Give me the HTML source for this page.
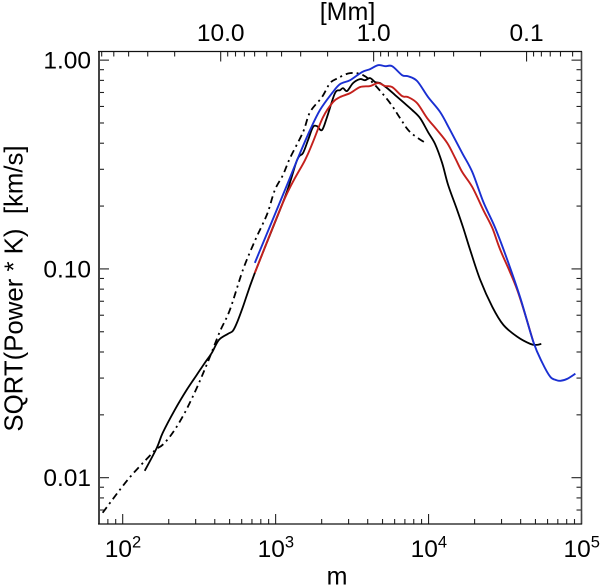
<!DOCTYPE html>
<html>
<head>
<meta charset="utf-8">
<title>Velocity power spectrum</title>
<style>
html,body{margin:0;padding:0;background:#fff;width:600px;height:586px;overflow:hidden}
svg{display:block}
text{font-family:"Liberation Sans",sans-serif;fill:#000}
</style>
</head>
<body>
<svg id="chart" xmlns="http://www.w3.org/2000/svg" width="600" height="586" viewBox="0 0 600 586">
  <rect x="0" y="0" width="600" height="586" fill="#fff"/>
  <g id="series" fill="none" stroke-linejoin="round"></g>
  <g id="ticks" fill="none"></g>
  <line x1="99" y1="51.5" x2="99" y2="524.5" stroke="#444" stroke-width="2"/>
  <line x1="581.5" y1="51.5" x2="581.5" y2="524.5" stroke="#444" stroke-width="1.6"/>
  <line x1="98" y1="51.5" x2="582" y2="51.5" stroke="#111" stroke-width="1.2"/>
  <line x1="98" y1="524" x2="582" y2="524" stroke="#111" stroke-width="1.2"/>
  <g id="labels"></g>
  <text x="337" y="584.5" font-size="25" text-anchor="middle">m</text>
  <text x="347.5" y="20" font-size="25" text-anchor="middle">[Mm]</text>
  <text transform="translate(22.5,288.5) rotate(-90)" font-size="25.8" text-anchor="middle">SQRT(Power * K)&#160;&#160;[km/s]</text>
</svg>
<script>
// Axis domains
const xDomain = [70, 100000];
const yDomain = [0.006, 1.1];
const circumferenceMm = 4373;

// Tick values and printed labels
const xMajorExponents = [2, 3, 4, 5];
const yMajorValues = [1, 0.1, 0.01];
const yMajorLabels = ["1.00", "0.10", "0.01"];
const topMajorValues = [10, 1, 0.1];
const topMajorLabels = ["10.0", "1.0", "0.1"];
const minorMultiples = [2, 3, 4, 5, 6, 7, 8, 9];

// Series, as log10(m) and log10(km/s)
const blackLogM = [2.144,2.223,2.262,2.341,2.419,2.485,2.537,2.583,2.629,2.688,2.720,2.747,2.786,2.864,3.061,3.140,3.179,3.212,3.244,3.270,3.303,3.336,3.388,3.421,3.441,3.467,3.506,3.552,3.585,3.618,3.650,3.683,3.729,3.781,3.834,3.893,3.945,3.997,4.043,4.089,4.128,4.187,4.227,4.272,4.338,4.417,4.489,4.580,4.665,4.705,4.737];
const blackLogV = [-1.967,-1.857,-1.785,-1.675,-1.579,-1.507,-1.450,-1.402,-1.340,-1.311,-1.297,-1.258,-1.182,-1.019,-0.656,-0.479,-0.445,-0.383,-0.321,-0.316,-0.335,-0.273,-0.158,-0.144,-0.134,-0.148,-0.110,-0.091,-0.096,-0.086,-0.105,-0.110,-0.134,-0.167,-0.201,-0.239,-0.278,-0.345,-0.402,-0.493,-0.598,-0.718,-0.804,-0.909,-1.053,-1.182,-1.268,-1.325,-1.359,-1.364,-1.359];

const redLogM = [2.864,3.061,3.192,3.244,3.310,3.375,3.421,3.487,3.552,3.618,3.670,3.716,3.762,3.827,3.866,3.925,3.991,4.056,4.122,4.174,4.220,4.286,4.358,4.417,4.469,4.580,4.685];
const redLogV = [-1.019,-0.660,-0.479,-0.392,-0.273,-0.201,-0.177,-0.158,-0.129,-0.124,-0.110,-0.124,-0.129,-0.172,-0.177,-0.206,-0.278,-0.335,-0.397,-0.469,-0.536,-0.608,-0.718,-0.804,-0.909,-1.101,-1.349];

const blueLogM = [2.864,3.061,3.146,3.225,3.290,3.369,3.421,3.487,3.565,3.618,3.670,3.716,3.762,3.827,3.866,3.925,3.997,4.076,4.141,4.220,4.286,4.358,4.436,4.515,4.600,4.685,4.744,4.796,4.829,4.862,4.908,4.960];
const blueLogV = [-0.971,-0.622,-0.469,-0.335,-0.239,-0.158,-0.115,-0.096,-0.057,-0.043,-0.024,-0.029,-0.029,-0.072,-0.077,-0.100,-0.177,-0.249,-0.335,-0.445,-0.536,-0.679,-0.804,-0.957,-1.139,-1.349,-1.450,-1.517,-1.531,-1.536,-1.526,-1.502];

const dashLogM = [1.869,2.033,2.177,2.223,2.262,2.327,2.406,2.485,2.557,2.635,2.701,2.786,2.864,2.910,2.950,2.995,3.048,3.094,3.179,3.225,3.303,3.356,3.408,3.487,3.572,3.650,3.749,3.814,3.880,3.991];
const dashLogV = [-2.168,-2.010,-1.895,-1.861,-1.842,-1.785,-1.689,-1.569,-1.445,-1.301,-1.196,-1.005,-0.866,-0.794,-0.727,-0.622,-0.550,-0.469,-0.345,-0.249,-0.177,-0.110,-0.086,-0.062,-0.072,-0.120,-0.206,-0.278,-0.345,-0.402];

// Plot frame
const frame = {left: 99, right: 581.5, top: 51.5, bottom: 524};
const SVGNS = "http://www.w3.org/2000/svg";

function xLog(lm) {
  const a = Math.log10(xDomain[0]), b = Math.log10(xDomain[1]);
  return frame.left + (lm - a) / (b - a) * (frame.right - frame.left);
}
function yLog(lv) {
  const a = Math.log10(yDomain[0]), b = Math.log10(yDomain[1]);
  return frame.bottom - (lv - a) / (b - a) * (frame.bottom - frame.top);
}
function xScale(m) { return xLog(Math.log10(m)); }
function yScale(v) { return yLog(Math.log10(v)); }
function topScale(mm) { return xScale(circumferenceMm / mm); }

const seriesGroup = document.getElementById("series");
const tickGroup = document.getElementById("ticks");
const labelGroup = document.getElementById("labels");

// Smooth curve through the data points (Catmull-Rom converted to Bezier)
function smoothPath(lm, lv) {
  const pts = lm.map((m, i) => [xLog(m), yLog(lv[i])]);
  let d = "M" + pts[0][0].toFixed(2) + " " + pts[0][1].toFixed(2);
  for (let i = 0; i < pts.length - 1; i++) {
    const p0 = pts[Math.max(i - 1, 0)];
    const p1 = pts[i];
    const p2 = pts[i + 1];
    const p3 = pts[Math.min(i + 2, pts.length - 1)];
    const c1x = p1[0] + (p2[0] - p0[0]) / 6;
    const c1y = p1[1] + (p2[1] - p0[1]) / 6;
    const c2x = p2[0] - (p3[0] - p1[0]) / 6;
    const c2y = p2[1] - (p3[1] - p1[1]) / 6;
    d += "C" + c1x.toFixed(2) + " " + c1y.toFixed(2) + " " + c2x.toFixed(2) + " " + c2y.toFixed(2) + " " + p2[0].toFixed(2) + " " + p2[1].toFixed(2);
  }
  return d;
}

function drawSeries(lm, lv, name, color, width, dash) {
  const p = document.createElementNS(SVGNS, "path");
  
  
  p.setAttribute("d", smoothPath(lm, lv));
  p.setAttribute("stroke", color);
  p.setAttribute("stroke-width", width);
  if (dash) p.setAttribute("stroke-dasharray", dash);
  seriesGroup.appendChild(p);
}

function drawTick(x1, y1, x2, y2, name) {
  const l = document.createElementNS(SVGNS, "line");
  
  
  l.setAttribute("x1", x1);
  l.setAttribute("y1", y1);
  l.setAttribute("x2", x2);
  l.setAttribute("y2", y2);
  l.setAttribute("stroke", "#222");
  l.setAttribute("stroke-width", "1.1");
  tickGroup.appendChild(l);
}

function drawLabel(x, y, str, anchor, name, sup) {
  const t = document.createElementNS(SVGNS, "text");
  
  
  t.setAttribute("x", x);
  t.setAttribute("y", y);
  t.setAttribute("font-size", "24.5");
  t.setAttribute("text-anchor", anchor);
  t.appendChild(document.createTextNode(str));
  if (sup) {
    const s = document.createElementNS(SVGNS, "tspan");
    
    
    s.setAttribute("font-size", "16.5");
    s.setAttribute("dy", "-9.5");
    s.textContent = sup;
    t.appendChild(s);
  }
  labelGroup.appendChild(t);
}

// Series
drawSeries(dashLogM, dashLogV, "dash-dot-series", "#000", 1.8, "7 4 2 4");
drawSeries(blackLogM, blackLogV, "black-series", "#000", 1.8);
drawSeries(redLogM, redLogV, "red-series", "#c4201c", 1.9);
drawSeries(blueLogM, blueLogV, "blue-series", "#1a2fd2", 1.9);

// Bottom axis ticks and labels
for (let e = 1; e <= 5; e++) {
  const base = Math.pow(10, e);
  if (xMajorExponents.includes(e)) {
    const px = xScale(base);
    drawTick(px, frame.bottom, px, frame.bottom - 10, "x-major-tick");
    drawLabel(px - 18, 557, "10", "start", "x-tick-label", String(e));
  }
  minorMultiples.forEach(k => {
    const v = k * base;
    if (v > xDomain[0] && v < xDomain[1]) {
      const px = xScale(v);
      drawTick(px, frame.bottom, px, frame.bottom - 5, "x-minor-tick");
    }
  });
}

// Left and right axis ticks
yMajorValues.forEach((v, i) => {
  const py = yScale(v);
  drawTick(frame.left, py, frame.left + 10, py, "y-major-tick");
  drawTick(frame.right, py, frame.right - 10, py, "y-right-major-tick");
  drawLabel(91, py + 8.5, yMajorLabels[i], "end", "y-tick-label");
  minorMultiples.forEach(k => {
    const mv = k * v;
    if (mv > yDomain[0] && mv < yDomain[1]) {
      const my = yScale(mv);
      drawTick(frame.left, my, frame.left + 5, my, "y-minor-tick");
      drawTick(frame.right, my, frame.right - 5, my, "y-right-minor-tick");
    }
  });
});
minorMultiples.forEach(k => {
  const mv = k * 0.001;
  if (mv > yDomain[0] && mv < yDomain[1]) {
    const my = yScale(mv);
    drawTick(frame.left, my, frame.left + 5, my, "y-minor-tick");
    drawTick(frame.right, my, frame.right - 5, my, "y-right-minor-tick");
  }
});

// Top axis ticks and labels
topMajorValues.forEach((v, i) => {
  const px = topScale(v);
  drawTick(px, frame.top, px, frame.top + 10, "top-major-tick");
  drawLabel(px, 41, topMajorLabels[i], "middle", "top-tick-label");
  minorMultiples.forEach(k => {
    const mv = k * v;
    const mx = topScale(mv);
    if (mx > frame.left && mx < frame.right) {
      drawTick(mx, frame.top, mx, frame.top + 5, "top-minor-tick");
    }
  });
});
minorMultiples.forEach(k => {
  const mx = topScale(k * 0.01);
  if (mx > frame.left && mx < frame.right) {
    drawTick(mx, frame.top, mx, frame.top + 5, "top-minor-tick");
  }
});
</script>
</body>
</html>
